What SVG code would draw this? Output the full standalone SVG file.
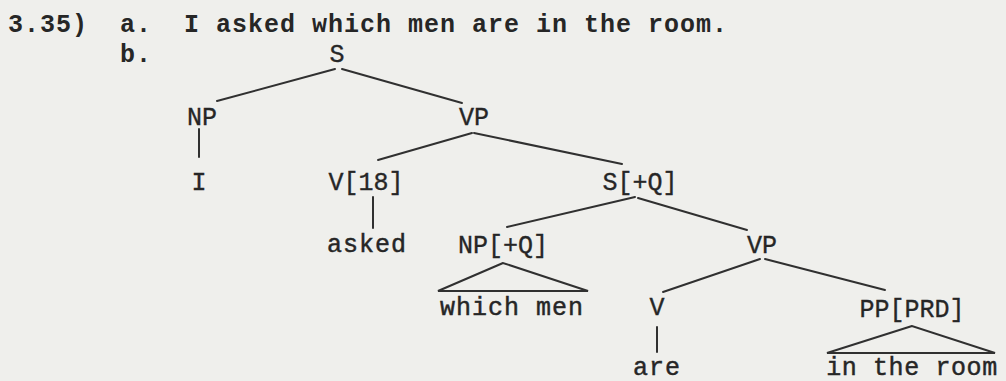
<svg xmlns="http://www.w3.org/2000/svg" width="1006" height="381" viewBox="0 0 1006 381">
<style>
text{font-family:"Liberation Mono","DejaVu Sans Mono",monospace;font-size:25px;fill:#262626}
.hd{font-weight:bold;letter-spacing:1px}
.lb{text-anchor:middle;stroke:#262626;stroke-width:0.35px}
.wd{text-anchor:middle;letter-spacing:1px;stroke:#262626;stroke-width:0.45px}
.edge{stroke:#303030;stroke-width:2;fill:none;stroke-linecap:round}
</style>
<rect width="1006" height="381" fill="#efefec"/>
<g id="header">
<text class="hd" x="8" y="32" xml:space="preserve">3.35)  a.  I asked which men are in the room.</text>
<text class="hd" x="120" y="62">b.</text>
</g>
<g id="connectors">
<line class="edge" x1="335" y1="69" x2="217" y2="101"/>
<line class="edge" x1="342" y1="69" x2="462" y2="103"/>
<line class="edge" x1="199" y1="129" x2="199" y2="157"/>
<line class="edge" x1="472" y1="133" x2="378" y2="160"/>
<line class="edge" x1="474" y1="133" x2="622" y2="164"/>
<line class="edge" x1="373" y1="197" x2="373" y2="228"/>
<line class="edge" x1="635" y1="197" x2="507" y2="227"/>
<line class="edge" x1="638" y1="198" x2="747" y2="230"/>
<polygon class="edge" points="503,263 438,291 588,291"/>
<line class="edge" x1="760" y1="259" x2="663" y2="292"/>
<line class="edge" x1="765" y1="259" x2="885" y2="290"/>
<line class="edge" x1="657" y1="327" x2="657" y2="352"/>
<polygon class="edge" points="912,326 827,353 995,353"/>
</g>
<g id="n-S"><text class="lb" x="337" y="62">S</text></g>
<g id="n-NP"><text class="lb" x="202" y="125">NP</text></g>
<g id="n-VP"><text class="lb" x="474" y="125">VP</text></g>
<g id="n-I"><text class="lb" x="199" y="190">I</text></g>
<g id="n-V18"><text class="lb" x="366" y="190">V[18]</text></g>
<g id="n-SQ"><text class="lb" x="640" y="190">S[+Q]</text></g>
<g id="n-asked"><text class="wd" x="367" y="252">asked</text></g>
<g id="n-NPQ"><text class="lb" x="503" y="253">NP[+Q]</text></g>
<g id="n-VP2"><text class="lb" x="762" y="253">VP</text></g>
<g id="n-whichmen"><text class="wd" x="512" y="315">which men</text></g>
<g id="n-V"><text class="lb" x="657" y="315">V</text></g>
<g id="n-PPPRD"><text class="lb" x="912" y="317">PP[PRD]</text></g>
<g id="n-are"><text class="wd" x="657" y="375">are</text></g>
<g id="n-room"><text class="wd" x="912" y="375" style="letter-spacing:0.6px">in the room</text></g>
</svg>
